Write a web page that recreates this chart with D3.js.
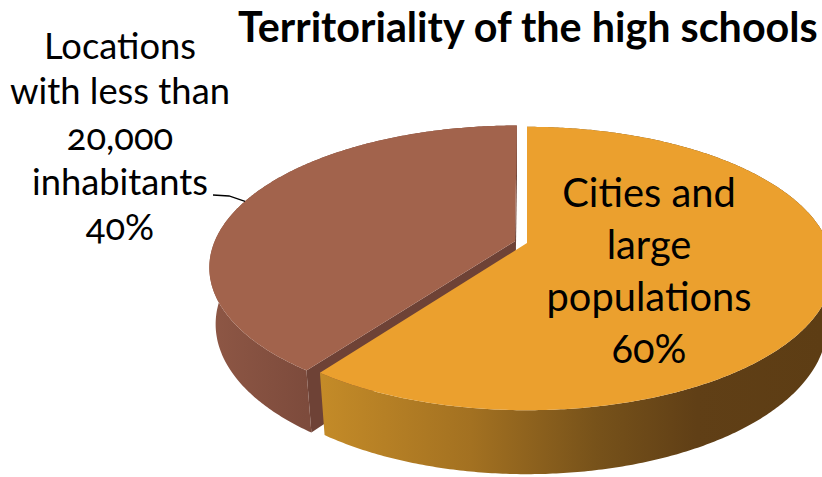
<!DOCTYPE html>
<html>
<head>
<meta charset="utf-8">
<script src="https://cdn.jsdelivr.net/npm/d3@7"></script>
<style>
  html, body { margin: 0; padding: 0; background: #ffffff; }
  svg { display: block; }
  text { font-family: "Lato", "Open Sans", sans-serif; fill: #000; font-variant-numeric: oldstyle-nums; }
</style>
</head>
<body>
<svg id="chart" width="822" height="477"></svg>
<script>
// ---- data ----
const chartTitle = "Territoriality of the high schools";
const categories = ["Cities and large populations", "Locations with less than 20,000 inhabitants"];
const values = [60, 40];
const labelLines = [
  ["Cities and", "large", "populations"],
  ["Locations", "with less than", "20,000", "inhabitants"]
];
const explodeAmount = [0, 0.042];

// ---- styles ----
const topColors = ["#EBA02E", "#A2634C"];
const cutColors = ["#7A521A", "#6E4236"];
const sideStops = [
  [["0", "#C48B28"], ["0.3", "#A37121"], ["0.55", "#77521A"], ["0.75", "#603F16"], ["1", "#5D3D14"]],
  [["0", "#8E5745"], ["1", "#7D4B3C"]]
];

const svg = d3.select("#chart");
const defs = svg.append("defs");

// ---- 3D perspective view of a unit-radius pie ----
const view = { cx: 527, cy: 243, tilt: 27.1 * Math.PI / 180, D: 4.946, H: 0.2126 };
view.f = 301 * view.D;
const sT = Math.sin(view.tilt), cT = Math.cos(view.tilt);
const camera = { x: 0, y: view.D * sT, z: -view.D * cT };

function project(X, Y, Z) {
  const yc = Z * sT + Y * cT;
  const zc = view.D + Z * cT - Y * sT;
  return [view.cx + view.f * X / zc, view.cy - view.f * yc / zc];
}

const total = d3.sum(values);
const pct = d3.format(".0%");
const arcs = d3.pie().sort(null).value(d => d)(values);

arcs.forEach((a, i) => {
  const mid = (a.startAngle + a.endAngle) / 2;
  a.mid = mid;
  a.off = { x: explodeAmount[i] * Math.sin(mid), z: explodeAmount[i] * Math.cos(mid) };
  const n = Math.max(8, Math.ceil((a.endAngle - a.startAngle) / 0.01));
  a.angles = d3.range(n + 1).map(k => a.startAngle + (a.endAngle - a.startAngle) * k / n);
});

const rim = (a, t, Y) => project(a.off.x + Math.sin(t), Y, a.off.z + Math.cos(t));
const apex = (a, Y) => project(a.off.x, Y, a.off.z);
const line = d3.line();

// draw order: left slice first, then the large slice in front of it
const order = [1, 0];

order.forEach(i => {
  const a = arcs[i];
  const g = svg.append("g").attr("class", "slice");

  // radial cut faces that face the camera
  [[a.startAngle, -1], [a.endAngle, 1]].forEach(([t, dir]) => {
    const nx = dir * Math.cos(t), nz = -dir * Math.sin(t);
    const px = a.off.x, pz = a.off.z;
    const dot = nx * (camera.x - px) + nz * (camera.z - pz);
    if (dot > 1e-3) {
      const pts = [apex(a, 0), rim(a, t, 0), rim(a, t, -view.H), apex(a, -view.H)];
      g.append("path").attr("d", line(pts) + "Z").attr("fill", cutColors[i]);
    }
  });

  // outer wall, shaded with a horizontal gradient over its visible span
  const visX = [];
  a.angles.forEach(t => {
    const px = a.off.x + Math.sin(t), pz = a.off.z + Math.cos(t);
    const dot = Math.sin(t) * (camera.x - px) + Math.cos(t) * (camera.z - pz);
    if (dot > 0) visX.push(rim(a, t, 0)[0]);
  });
  const gid = "side" + i;
  const grad = defs.append("linearGradient").attr("id", gid)
    .attr("gradientUnits", "userSpaceOnUse")
    .attr("x1", d3.min(visX)).attr("x2", Math.min(d3.max(visX), 822))
    .attr("y1", 0).attr("y2", 0);
  sideStops[i].forEach(([o, c]) => grad.append("stop").attr("offset", o).attr("stop-color", c));

  const topArc = a.angles.map(t => rim(a, t, 0));
  const botArc = a.angles.slice().reverse().map(t => rim(a, t, -view.H));
  g.append("path").attr("d", line(topArc.concat(botArc)) + "Z").attr("fill", `url(#${gid})`);

  // top face
  g.append("path").attr("d", line([apex(a, 0)].concat(topArc)) + "Z").attr("fill", topColors[i]);
});

// ---- text ----
function fitBlock(sel, target) {
  let w = 0;
  sel.each(function () { w = Math.max(w, this.getComputedTextLength()); });
  const size = parseFloat(sel.attr("font-size"));
  sel.attr("font-size", size * target / w);
}

const titleText = svg.append("text")
  .attr("x", 238).attr("y", 42)
  .attr("font-size", 30).attr("font-weight", "bold")
  .text(chartTitle);
fitBlock(titleText, 580);

// label inside the large slice
const inner = labelLines[0].concat([pct(values[0] / total)]);
const innerSel = svg.append("g").selectAll("text").data(inner).join("text")
  .attr("x", 649).attr("y", (d, k) => 207 + k * 52)
  .attr("text-anchor", "middle").attr("font-size", 30)
  .text(d => d);
fitBlock(innerSel, 205);

// outside label with leader line
const outer = labelLines[1].concat([pct(values[1] / total)]);
const outerSel = svg.append("g").selectAll("text").data(outer).join("text")
  .attr("x", 120).attr("y", (d, k) => 59 + k * 45.3)
  .attr("text-anchor", "middle").attr("font-size", 30)
  .text(d => d);
fitBlock(outerSel, 220);

const b = arcs[1];
const leaderEnd = rim(b, b.mid, 0);
svg.append("path")
  .attr("d", line([[213, 195], [229, 196], leaderEnd]))
  .attr("fill", "none").attr("stroke", "#000").attr("stroke-width", 1.3);
</script>
</body>
</html>
